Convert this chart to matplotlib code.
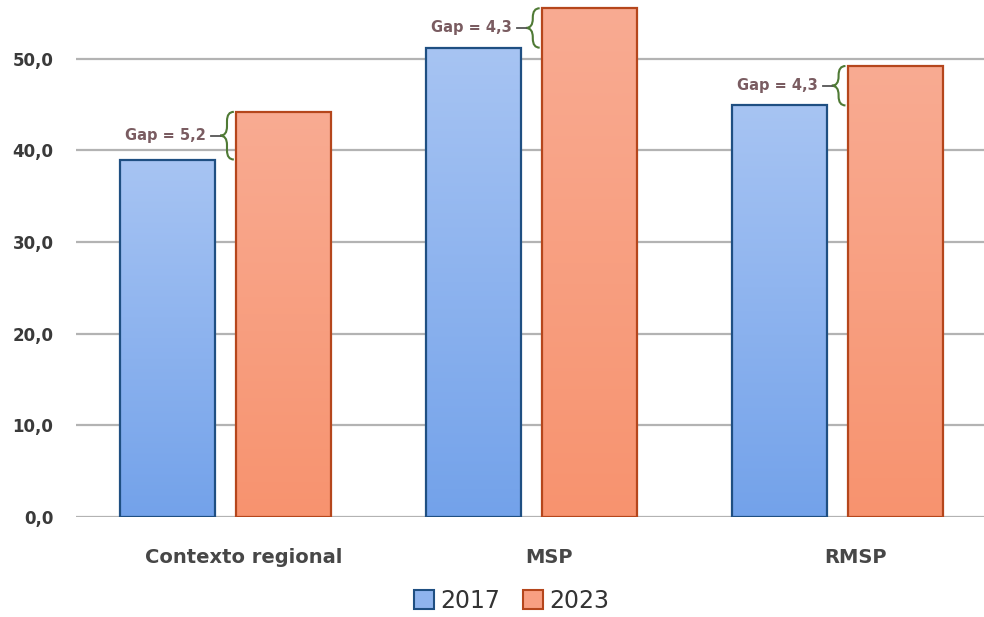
import numpy as np
import matplotlib.pyplot as plt
from matplotlib.path import Path
from matplotlib.patches import PathPatch, Patch
from matplotlib.colors import LinearSegmentedColormap
import matplotlib.transforms as mtransforms

plt.rcParams['font.family'] = ['DejaVu Sans']

# data
categories = ['Contexto regional', 'MSP', 'RMSP']
values_2017 = [39.0, 51.2, 44.9]
values_2023 = [44.2, 55.5, 49.2]
years = ['2017', '2023']
yticks = [0, 10, 20, 30, 40, 50]

fig = plt.figure(figsize=(9.84, 6.17), dpi=100)
ax = fig.add_axes([0.077, 0.162, 0.923, 0.838])

x = np.arange(len(categories))
w = 0.31
off = 0.19

blue_cmap = LinearSegmentedColormap.from_list('b', ['#73a2ea', '#a7c4f3'])
orange_cmap = LinearSegmentedColormap.from_list('o', ['#f7936f', '#f9ab92'])

bars17 = ax.bar(x - off, values_2017, w, facecolor='none', edgecolor='#1f4f82', linewidth=1.6, zorder=3)
bars23 = ax.bar(x + off, values_2023, w, facecolor='none', edgecolor='#b5461c', linewidth=1.6, zorder=3)

# gradient fill inside the bars
grad = np.linspace(0, 1, 256).reshape(-1, 1)
for bars, cmap in [(bars17, blue_cmap), (bars23, orange_cmap)]:
    for b in bars:
        x0, y0 = b.get_x(), b.get_y()
        im = ax.imshow(grad, cmap=cmap, origin='lower', aspect='auto',
                       extent=[x0, x0 + b.get_width(), y0, y0 + b.get_height()], zorder=2)
        im.set_clip_path(b)

ax.set_xlim(-0.49, 2.48)
ax.set_ylim(0, 56.4)

ax.set_yticks(yticks)
ax.set_yticklabels([f'{v:.1f}'.replace('.', ',') for v in yticks],
                   fontsize=12, fontweight='bold', color='#3a3a3a')
ax.yaxis.grid(True, color='#b3b3b3', linewidth=1.6, zorder=0)
ax.set_axisbelow(True)
for s in ax.spines.values():
    s.set_visible(False)
ax.tick_params(axis='both', length=0)
ax.tick_params(axis='y', pad=16)
ax.tick_params(axis='x', pad=22)

ax.set_xticks(x)
ax.set_xticklabels(categories, fontsize=14, fontweight='bold', color='#474747')
shift = mtransforms.ScaledTranslation(18 / 100, 0, fig.dpi_scale_trans)
for lbl in ax.get_xticklabels():
    lbl.set_transform(lbl.get_transform() + shift)


def brace(xr, bottom, top, width=0.045, r=1.0):
    xl = xr - width
    xm = (xl + xr) / 2
    mid = (bottom + top) / 2
    verts = [(xr, top), (xm, top), (xm, top - r),
             (xm, mid + r), (xm, mid), (xl, mid),
             (xm, mid), (xm, mid - r),
             (xm, bottom + r), (xm, bottom), (xr, bottom)]
    codes = [Path.MOVETO, Path.CURVE3, Path.CURVE3,
             Path.LINETO, Path.CURVE3, Path.CURVE3,
             Path.CURVE3, Path.CURVE3,
             Path.LINETO, Path.CURVE3, Path.CURVE3]
    ax.add_patch(PathPatch(Path(verts, codes), facecolor='none', edgecolor='#4f7a35',
                           linewidth=1.5, zorder=4))
    return xl, mid


for i in range(len(categories)):
    lo, hi = values_2017[i], values_2023[i]
    xr = x[i] + off - w / 2 - 0.008
    xl, mid = brace(xr, lo, hi)
    ax.plot([xl - 0.03, xl], [mid, mid], color='#555555', linewidth=1.3, zorder=4)
    gap = f'Gap = {hi - lo:.1f}'.replace('.', ',')
    ax.text(xl - 0.045, mid, gap, ha='right', va='center', fontsize=10.5,
            fontweight='bold', color='#7a5c61', zorder=4)

handles = [Patch(facecolor='#8fb4ee', edgecolor='#1f4f82', linewidth=1.5),
           Patch(facecolor='#f89f82', edgecolor='#b5461c', linewidth=1.5)]
leg = fig.legend(handles, years, loc='center', bbox_to_anchor=(0.52, 0.026), ncol=2,
                 frameon=False, fontsize=17, handlelength=0.85, handleheight=0.85,
                 handletextpad=0.25, columnspacing=1.0)
for t in leg.get_texts():
    t.set_color('#333333')

fig.savefig('out.png', dpi=100)
